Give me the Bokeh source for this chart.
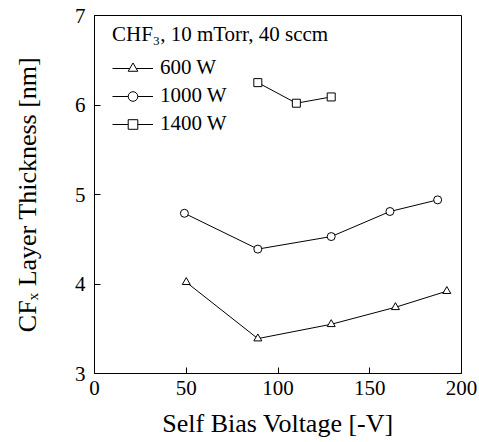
from bokeh.plotting import figure
from bokeh.models import Legend, LegendItem, FixedTicker, Range1d
from bokeh.embed import file_html
from bokeh.resources import INLINE

# Data
x_600 = [50, 89, 129, 164, 192]
y_600 = [4.02, 3.39, 3.55, 3.74, 3.92]
x_1000 = [49, 89, 129, 161, 187]
y_1000 = [4.79, 4.39, 4.53, 4.81, 4.94]
x_1400 = [89, 110, 129]
y_1400 = [6.25, 6.02, 6.09]

x_ticks = [0, 50, 100, 150, 200]
y_ticks = [3, 4, 5, 6, 7]

FONT = "Liberation Serif"

p = figure(width=479, height=442, output_backend="svg", toolbar_location=None,
           x_range=Range1d(0, 200), y_range=Range1d(3, 7),
           min_border_left=94, min_border_right=18, min_border_top=15, min_border_bottom=69)
p.background_fill_color = "white"
p.border_fill_color = "white"
p.outline_line_color = "black"
p.outline_line_width = 1
p.grid.visible = False

for ax in (p.xaxis[0], p.yaxis[0]):
    ax.major_tick_in = 6
    ax.major_tick_out = 0
    ax.minor_tick_line_color = None
    ax.axis_line_color = "black"
    ax.major_tick_line_color = "black"
    ax.major_label_text_font = FONT
    ax.major_label_text_font_size = "21px"
    ax.major_label_text_color = "black"
    ax.axis_label_text_font = FONT
    ax.axis_label_text_font_size = "26px"
    ax.axis_label_text_font_style = "normal"
    ax.axis_label_text_color = "black"

p.xaxis.ticker = FixedTicker(ticks=x_ticks)
p.yaxis.ticker = FixedTicker(ticks=y_ticks)
p.xaxis.axis_label = "Self Bias Voltage [-V]"
p.yaxis.axis_label = "CF\u2093 Layer Thickness [nm]"
p.xaxis.major_label_standoff = 7
p.xaxis.axis_label_standoff = 11
p.yaxis.major_label_standoff = 9
p.yaxis.axis_label_standoff = 30

l1 = p.line(x_600, y_600, line_color="black", line_width=1)
s1 = p.scatter(x_600, y_600, marker="triangle", size=8, fill_color="white", line_color="black", line_width=1)
l2 = p.line(x_1000, y_1000, line_color="black", line_width=1)
s2 = p.scatter(x_1000, y_1000, marker="circle", size=8, fill_color="white", line_color="black", line_width=1)
l3 = p.line(x_1400, y_1400, line_color="black", line_width=1)
s3 = p.scatter(x_1400, y_1400, marker="square", size=8, fill_color="white", line_color="black", line_width=1)

legend = Legend(items=[
    LegendItem(label="600 W", renderers=[l1, s1]),
    LegendItem(label="1000 W", renderers=[l2, s2]),
    LegendItem(label="1400 W", renderers=[l3, s3]),
], location=(18, 237))
legend.title = "CHF\u2083, 10 mTorr, 40 sccm"
legend.title_text_font = FONT
legend.title_text_font_size = "21px"
legend.title_text_font_style = "normal"
legend.title_text_color = "black"
legend.title_standoff = 8
legend.label_text_font = FONT
legend.label_text_font_size = "21px"
legend.label_text_color = "black"
legend.glyph_width = 41
legend.glyph_height = 24
legend.label_standoff = 7
legend.spacing = 3
legend.padding = 0
legend.margin = 0
legend.border_line_color = None
legend.background_fill_alpha = 0
p.add_layout(legend)

open("out.html", "w").write(file_html(p, INLINE))
